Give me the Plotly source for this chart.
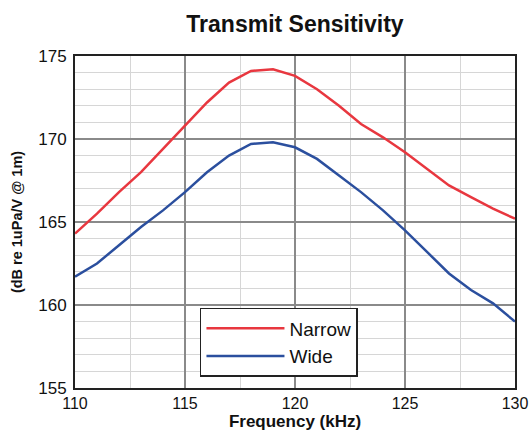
import plotly.graph_objects as go

freq_khz = [110, 111, 112, 113, 114, 115, 116, 117, 118, 119, 120,
            121, 122, 123, 124, 125, 126, 127, 128, 129, 130]
narrow_db = [164.3, 165.5, 166.8, 168.0, 169.4, 170.8, 172.2, 173.4, 174.1, 174.2, 173.8,
             173.0, 172.0, 170.9, 170.1, 169.2, 168.2, 167.2, 166.5, 165.8, 165.2]
wide_db = [161.7, 162.5, 163.6, 164.7, 165.7, 166.8, 168.0, 169.0, 169.7, 169.8, 169.5,
           168.8, 167.8, 166.8, 165.7, 164.5, 163.2, 161.9, 160.9, 160.1, 159.0]

FONT = "Liberation Sans, Arial, sans-serif"

W, H = 531, 439
fig = go.Figure()
fig.add_trace(go.Scatter(x=freq_khz, y=narrow_db, mode="lines", name="Narrow",
                         line=dict(color="#e8373f", width=2.5)))
fig.add_trace(go.Scatter(x=freq_khz, y=wide_db, mode="lines", name="Wide",
                         line=dict(color="#2b4f9e", width=2.5)))

fig.update_layout(
    width=W, height=H,
    margin=dict(l=75, r=16, t=56, b=51, autoexpand=False),
    paper_bgcolor="white", plot_bgcolor="white",
    font=dict(family=FONT, color="#111", size=16),
    title=dict(text="<b>Transmit Sensitivity</b>", x=0.5, xref="paper", xanchor="center",
               y=1 - 24 / H, yref="container", yanchor="middle",
               font=dict(family=FONT, size=23, color="#111")),
    legend=dict(x=0.284, y=0.241, xanchor="left", yanchor="top",
                bgcolor="white", bordercolor="#222", borderwidth=1.5,
                font=dict(family=FONT, size=19, color="#111"),
                itemwidth=78, tracegroupgap=0),
    showlegend=True,
)
fig.update_xaxes(
    range=[110, 130], dtick=5, tick0=110,
    showgrid=True, gridcolor="#8a8a8a", gridwidth=1.5,
    minor=dict(dtick=2.5, tick0=110, showgrid=True, gridcolor="#d6d6d6", gridwidth=1),
    showline=True, linecolor="#222", linewidth=2, mirror=True,
    ticks="", ticklabelstandoff=0,
    tickfont=dict(size=16, color="#111"),
    title=dict(text="<b>Frequency (kHz)</b>", font=dict(size=17, color="#111"), standoff=0),
    zeroline=False,
)
fig.update_yaxes(
    range=[155, 175], dtick=5, tick0=155,
    showgrid=True, gridcolor="#8a8a8a", gridwidth=1.5,
    minor=dict(dtick=1, tick0=155, showgrid=True, gridcolor="#d6d6d6", gridwidth=1),
    showline=True, linecolor="#222", linewidth=2, mirror=True,
    ticks="", ticklabelstandoff=3,
    tickfont=dict(size=17, color="#111"),
    title=dict(text="<b>(dB re 1uPa/V @ 1m)</b>", font=dict(size=14.5, color="#111"), standoff=12),
    zeroline=False,
)

fig.write_html(
    "out.html",
    config={"displayModeBar": False},
    post_script="document.body.style.margin='0';document.body.style.overflow='hidden';",
)
